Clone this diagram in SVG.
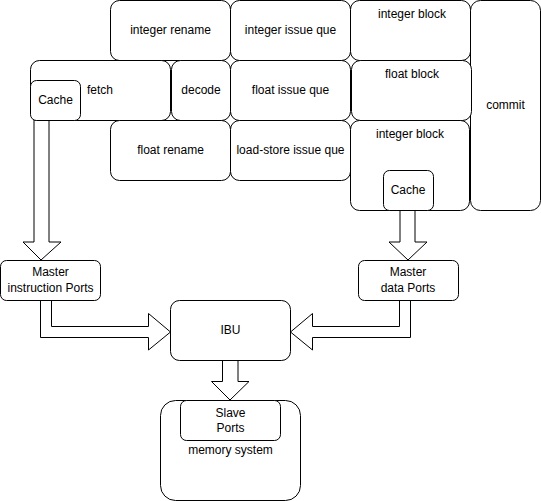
<svg xmlns="http://www.w3.org/2000/svg" width="541" height="501" viewBox="0 0 541 501">
<style>
.b{fill:#fff;stroke:#000;stroke-width:1}
.a{fill:#fff;stroke:#000;stroke-width:1;stroke-linejoin:miter}
text{font-family:"Liberation Sans",Arial,sans-serif;font-size:12px;fill:#000;text-anchor:middle;dominant-baseline:central}
</style>
<rect width="541" height="501" fill="#fff"/>
<g id="connectors">
<polygon class="a" points="34,120 49,120 49,242 61,242 41,260 23,242 34,242"/>
<polygon class="a" points="400,210 415,210 415,242 427,242 408,260 389,242 400,242"/>
<polygon class="a" points="40.5,300 40.5,337.5 148.5,337.5 148.5,350 170.5,332 148.5,313.5 148.5,326.5 51.5,326.5 51.5,300"/>
<polygon class="a" points="410.5,300 410.5,337.5 312.5,337.5 312.5,350 290.5,332 312.5,313.5 312.5,326.5 399.5,326.5 399.5,300"/>
<polygon class="a" points="222.5,360 222.5,381.5 211.5,381.5 230,400 249,381.5 238,381.5 238,360"/>
</g>
<g id="integer-rename"><rect class="b" x="110.5" y="0.5" width="120" height="60" rx="9"/><text x="170.5" y="30">integer rename</text></g>
<g id="integer-issue-que"><rect class="b" x="230.5" y="0.5" width="120" height="60" rx="9"/><text x="290.5" y="30">integer issue que</text></g>
<g id="integer-block-top"><rect class="b" x="350.5" y="0.5" width="120" height="60" rx="9"/><text x="412" y="14">integer block</text></g>
<g id="commit"><rect class="b" x="470.5" y="0.5" width="70" height="210" rx="10"/><text x="505.5" y="105">commit</text></g>
<g id="fetch"><rect class="b" x="30.5" y="60.5" width="140" height="60" rx="9"/><text x="100" y="90">fetch</text></g>
<g id="fetch-cache"><rect class="b" x="30.5" y="80.5" width="50" height="40" rx="6"/><text x="55.5" y="100">Cache</text></g>
<g id="decode"><rect class="b" x="171.5" y="60.5" width="59" height="60" rx="9"/><text x="201" y="90">decode</text></g>
<g id="float-issue-que"><rect class="b" x="230.5" y="60.5" width="120" height="60" rx="9"/><text x="290.5" y="90">float issue que</text></g>
<g id="float-block"><rect class="b" x="351.5" y="60.5" width="120" height="60" rx="9"/><text x="412" y="74">float block</text></g>
<g id="float-rename"><rect class="b" x="110.5" y="120.5" width="120" height="60" rx="9"/><text x="170.5" y="150">float rename</text></g>
<g id="load-store-issue-que"><rect class="b" x="230.5" y="120.5" width="120" height="60" rx="9"/><text x="290.5" y="150">load-store issue que</text></g>
<g id="integer-block-bottom"><rect class="b" x="350.5" y="120.5" width="119" height="90" rx="9"/><text x="410" y="134">integer block</text></g>
<g id="block-cache"><rect class="b" x="383.5" y="170.5" width="50" height="40" rx="6"/><text x="408" y="190">Cache</text></g>
<g id="master-instruction-ports"><rect class="b" x="0.5" y="260.5" width="100" height="40" rx="6"/><text x="50.5" y="272">Master</text><text x="50.5" y="288">instruction Ports</text></g>
<g id="master-data-ports"><rect class="b" x="358.5" y="260.5" width="100" height="40" rx="6"/><text x="408" y="272">Master</text><text x="408" y="288">data Ports</text></g>
<g id="ibu"><rect class="b" x="170.5" y="300.5" width="120" height="60" rx="9"/><text x="230.5" y="330">IBU</text></g>
<g id="memory-system"><rect class="b" x="160.5" y="400.5" width="140" height="100" rx="15"/><text x="230.5" y="450">memory system</text></g>
<g id="slave-ports"><rect class="b" x="180.5" y="400.5" width="100" height="40" rx="6"/><text x="230.5" y="413">Slave</text><text x="230.5" y="428">Ports</text></g>
</svg>
